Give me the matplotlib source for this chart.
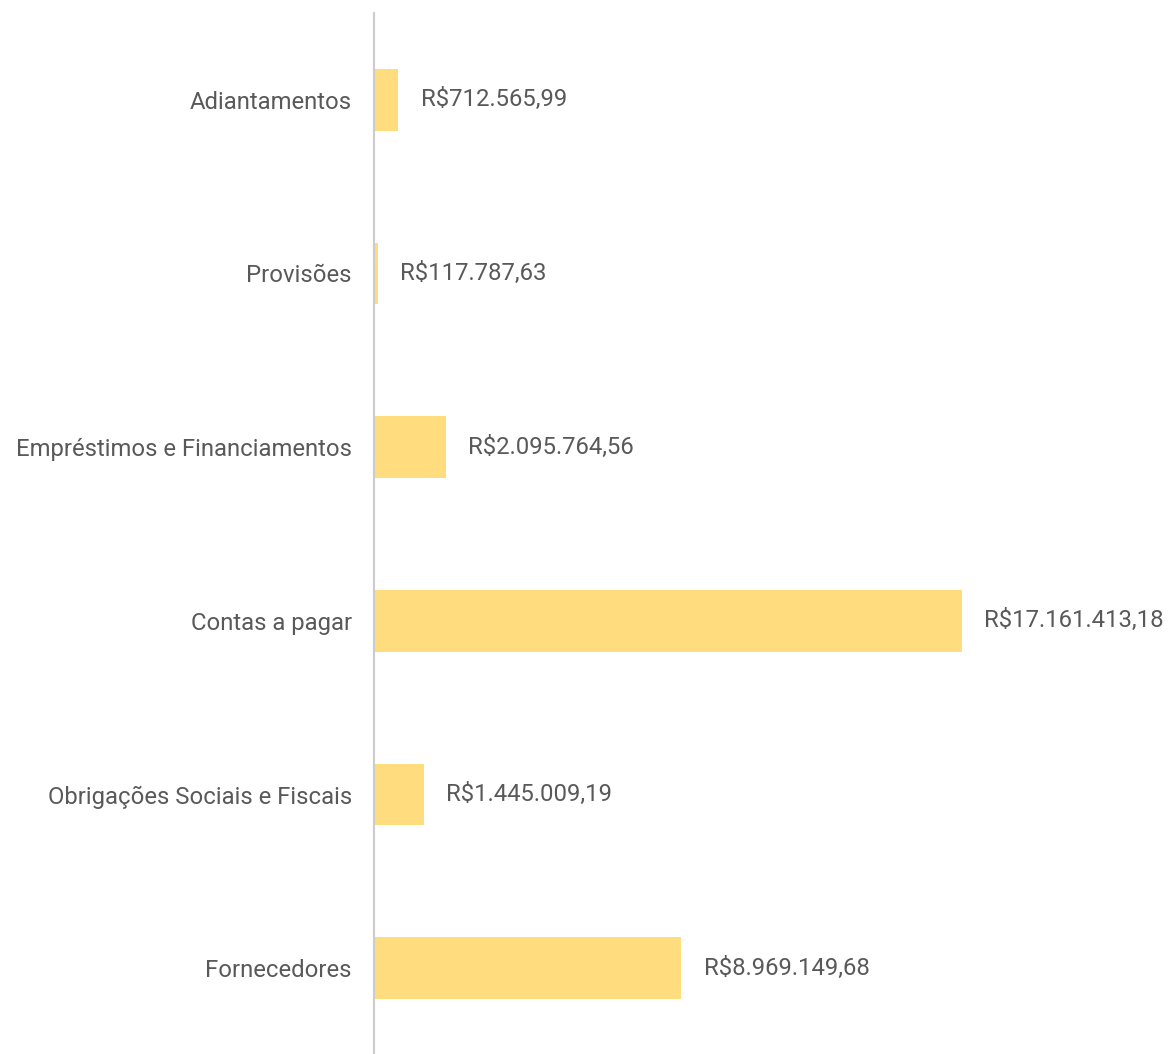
import matplotlib
matplotlib.use('Agg')
import matplotlib.pyplot as plt

plt.rcParams['font.family'] = ['Roboto', 'DejaVu Sans']

categories = ['Adiantamentos', 'Provisões', 'Empréstimos e Financiamentos',
              'Contas a pagar', 'Obrigações Sociais e Fiscais', 'Fornecedores']
values = [712565.99, 117787.63, 2095764.56, 17161413.18, 1445009.19, 8969149.68]
labels = ['R$712.565,99', 'R$117.787,63', 'R$2.095.764,56',
          'R$17.161.413,18', 'R$1.445.009,19', 'R$8.969.149,68']

textcolor = '#595959'
barcolor = '#ffdc7d'

fig = plt.figure(figsize=(11.68, 10.54), dpi=100)
ax = fig.add_axes([374/1168, 1-1055/1054, 1-374/1168, 1042/1054])

ypos = list(range(len(categories)))
ax.barh(ypos, values, height=0.356, color=barcolor)
ax.set_ylim(5.5, -0.5)
ax.set_xlim(0, 23.17e6)

for y, v, lab in zip(ypos, values, labels):
    ax.annotate(lab, (v, y), xytext=(16, 0), textcoords='offset points',
                va='center', ha='left', fontsize=17.2, color=textcolor)

ax.set_yticks(ypos)
ax.set_yticklabels(categories, fontsize=17.2, color=textcolor)
ax.tick_params(axis='y', length=0, pad=16)
ax.set_xticks([])
for s in ['top', 'right', 'bottom']:
    ax.spines[s].set_visible(False)
ax.spines['left'].set_color('#cccccc')
ax.spines['left'].set_linewidth(1.5)

fig.savefig('out.png', dpi=100)
